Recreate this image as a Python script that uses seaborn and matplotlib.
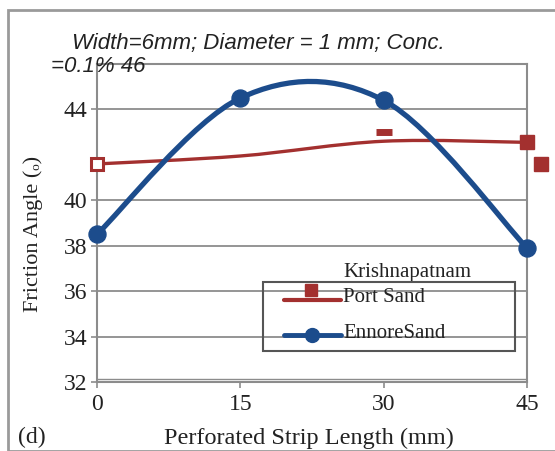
import numpy as np
import pandas as pd
import seaborn as sns
import matplotlib
matplotlib.use("Agg")
import matplotlib.pyplot as plt
from matplotlib.path import Path
from matplotlib.patches import PathPatch, Rectangle
from matplotlib.lines import Line2D

# ---- data ----
strip_length = [0, 15, 30, 45]
ennore_sand = [38.5, 44.5, 44.4, 37.9]
krishnapatnam = [41.6, 41.95, 42.6, 42.55]
krish_marker_30 = 43.0          # stray dash marker near x=30
krish_stray_x = [46.5]
krish_stray_y = [41.6]
x_ticks = [0, 15, 30, 45]
y_ticks = [32, 34, 36, 38, 40, 44]
title_line1 = "Width=6mm; Diameter = 1 mm; Conc."
title_line2 = "=0.1% 46"
xlabel = "Perforated Strip Length (mm)"
ylabel = "Friction Angle (\u2092)"
panel = "(d)"
legend_labels = ["Krishnapatnam", "Port Sand", "EnnoreSand"]

RED = "#A3302F"
BLUE = "#1C4C8C"
GRID = "#8C8C8C"
TXT = "#222222"

sns.set_theme(style="white")
plt.rcParams["font.family"] = ["Liberation Serif", "DejaVu Serif"]

W, H = 555, 451
fig = plt.figure(figsize=(5.55, 4.51), dpi=100)
ax = fig.add_axes([97/W, 1-382/H, (527-97)/W, (382-64)/H])

def fx(px):
    return px / W

def fy(py):
    return 1 - py / H

def smooth_path(xs, ys):
    pts = np.column_stack([xs, ys]).astype(float)
    n = len(pts)
    verts = [pts[0]]
    codes = [Path.MOVETO]
    for i in range(n-1):
        p0 = pts[i-1] if i > 0 else pts[i]
        p1 = pts[i]
        p2 = pts[i+1]
        p3 = pts[i+2] if i+2 < n else pts[i+1]
        c1 = p1 + (p2 - p0) / 6.0
        c2 = p2 - (p3 - p1) / 6.0
        verts += [c1, c2, p2]
        codes += [Path.CURVE4]*3
    return Path(verts, codes)

# gridlines
for yt in y_ticks:
    ax.axhline(yt, color=GRID, lw=1.3, zorder=0)
ax.axhline(32.15, color=GRID, lw=1.0, zorder=0)

df = pd.DataFrame({"x": strip_length, "ennore": ennore_sand, "krish": krishnapatnam})

# smooth lines
ax.add_patch(PathPatch(smooth_path(strip_length, krishnapatnam), fill=False,
                       edgecolor=RED, lw=2.4, zorder=3))
ax.add_patch(PathPatch(smooth_path(strip_length, ennore_sand), fill=False,
                       edgecolor=BLUE, lw=3.8, zorder=4, capstyle="round"))

# markers
sns.scatterplot(data=df, x="x", y="ennore", ax=ax, color=BLUE, s=150,
                marker="o", edgecolor=BLUE, zorder=5, legend=False, clip_on=False)
ax.plot([0], [krishnapatnam[0]], marker="s", ms=9, mfc="white", mec=RED,
        mew=2.2, ls="none", zorder=6, clip_on=False)
ax.plot([30], [krish_marker_30], marker="_", ms=12, mec=RED, mew=5,
        ls="none", zorder=6, clip_on=False)
ax.plot([45], [krishnapatnam[3]], marker="s", ms=10, mfc=RED, mec=RED,
        ls="none", zorder=6, clip_on=False)
ax.plot(krish_stray_x, krish_stray_y, marker="s", ms=10, mfc=RED, mec=RED,
        ls="none", zorder=6, clip_on=False)

ax.set_xlim(0, 45)
ax.set_ylim(32, 46)
ax.set_xticks(x_ticks)
ax.set_xticklabels([str(t) for t in x_ticks], fontsize=17)
ax.set_yticks(y_ticks)
ax.set_yticklabels([str(t) for t in y_ticks], fontsize=17)
ax.tick_params(axis="both", length=4, color=GRID, width=1.2, labelcolor=TXT)
ax.tick_params(axis="x", bottom=True, pad=5)
ax.tick_params(axis="y", left=True, pad=3)
for sp in ax.spines.values():
    sp.set_color(GRID)
    sp.set_linewidth(1.5)
    sp.set_visible(True)

ax.set_xlabel(xlabel, fontsize=17.5, color=TXT)
ax.xaxis.set_label_coords((309 - 97) / 430, -(438 - 382) / 318)
ax.xaxis.label.set_va("center")
ax.set_ylabel(ylabel, fontsize=16, color=TXT)
ax.yaxis.set_label_coords(-(97 - 33) / 430, (382 - 234) / 318)
ax.yaxis.label.set_va("center")

# legend (drawn manually to match the reference layout)
fig.patches.append(Rectangle((fx(263), fy(351)), fx(515) - fx(263), fy(282) - fy(351),
                             transform=fig.transFigure, fill=False,
                             edgecolor="#555555", lw=1.5, zorder=10))
fig.lines.append(Line2D([fx(284), fx(341)], [fy(300), fy(300)], transform=fig.transFigure,
                        color=RED, lw=3, zorder=11))
fig.lines.append(Line2D([fx(311)], [fy(290)], transform=fig.transFigure, marker="s",
                        ms=9, mfc=RED, mec=RED, ls="none", zorder=12))
fig.lines.append(Line2D([fx(284), fx(341)], [fy(335), fy(335)], transform=fig.transFigure,
                        color=BLUE, lw=3.5, marker=None, zorder=11))
fig.lines.append(Line2D([fx(312)], [fy(335)], transform=fig.transFigure, marker="o",
                        ms=10, mfc=BLUE, mec=BLUE, ls="none", zorder=12))
fig.text(fx(343), fy(272), legend_labels[0], fontsize=15, va="center", ha="left", color=TXT)
fig.text(fx(343), fy(297), legend_labels[1], fontsize=15, va="center", ha="left", color=TXT)
fig.text(fx(343), fy(334), legend_labels[2], fontsize=15, va="center", ha="left", color=TXT)

# title
fig.text(fx(72), fy(43), title_line1, fontsize=16, style="italic",
         family=["Liberation Sans", "DejaVu Sans"], va="center", ha="left", color=TXT)
fig.text(fx(51), fy(67), title_line2, fontsize=16, style="italic",
         family=["Liberation Sans", "DejaVu Sans"], va="center", ha="left", color=TXT)
fig.text(fx(18), fy(437), panel, fontsize=17, va="center", ha="left", color=TXT)

# outer border
fig.patches.append(Rectangle((fx(8), 0), 1.0, fy(10), transform=fig.transFigure,
                             fill=False, edgecolor="#9A9A9A", lw=2.0))

fig.savefig("out.png", dpi=100)
